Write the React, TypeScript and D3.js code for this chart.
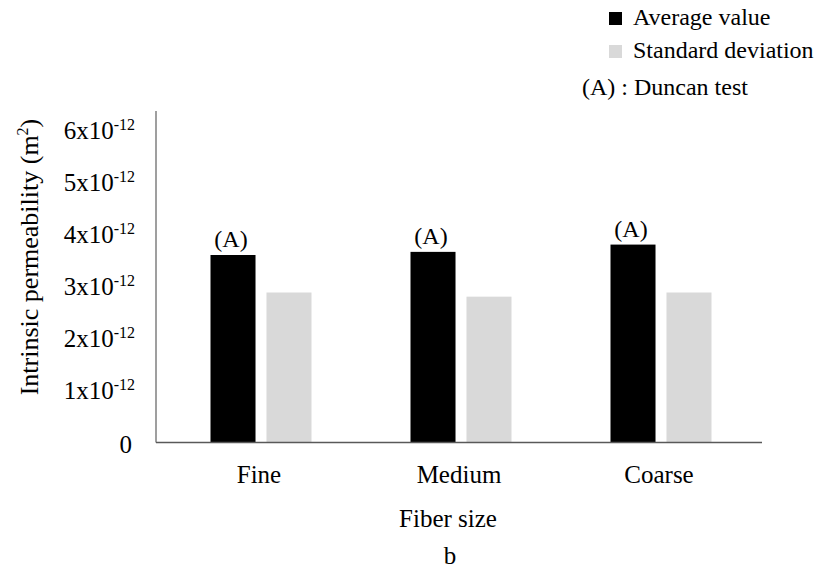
import React from "react";
import * as d3 from "d3";

// Fiber size groups and their permeability measurements (units of 1e-12 m²)
const categories: string[] = ["Fine", "Medium", "Coarse"];
const averageValues: number[] = [3.6, 3.66, 3.8];
const standardDeviations: number[] = [2.88, 2.8, 2.88];
const duncanGroups: string[] = ["A", "A", "A"];
const yTicks: number[] = [0, 1, 2, 3, 4, 5, 6];
const seriesNames: string[] = ["Average value", "Standard deviation"];
const seriesColors: string[] = ["#000000", "#d9d9d9"];

const W = 815;
const H = 569;
const FONT = "'Liberation Serif', 'Times New Roman', serif";

export default function App() {
  const axisLeft = 156;
  const axisRight = 762;
  const baseY = 442.5;
  const topY = 111;

  const y = d3.scaleLinear().domain([0, 6]).range([baseY, 130]);
  const yTop = y.invert(topY);

  const x0 = d3.scaleBand<string>().domain(categories).range([161, 761]);
  const groupW = 101;
  const x1 = d3
    .scaleBand<string>()
    .domain(seriesNames)
    .range([0, groupW])
    .paddingInner(0.196);

  const seriesValues = [averageValues, standardDeviations];

  return (
    <svg
      width={W}
      height={H}
      style={{ position: "absolute", left: 0, top: 0, background: "#fff" }}
      fontFamily={FONT}
    >
      <rect x={0} y={0} width={W} height={H} fill="#fff" />

      {/* bars */}
      {categories.map((c, i) => {
        const gx = (x0(c) as number) + (x0.bandwidth() - groupW) / 2;
        return (
          <g key={c} transform={`translate(${gx},0)`}>
            {seriesNames.map((s, j) => {
              const v = seriesValues[j][i];
              return (
                <rect
                  key={s}
                  x={x1(s) as number}
                  y={y(v)}
                  width={x1.bandwidth()}
                  height={baseY - y(v)}
                  fill={seriesColors[j]}
                />
              );
            })}
            <text
              x={(x1(seriesNames[0]) as number) + x1.bandwidth() / 2 - 2}
              y={y(averageValues[i]) - 8}
              textAnchor="middle"
              fontSize={24}
              fill="#000"
            >
              {`(${duncanGroups[i]})`}
            </text>
          </g>
        );
      })}

      {/* axes */}
      <line
        x1={axisLeft}
        x2={axisLeft}
        y1={y(yTop)}
        y2={baseY}
        stroke="#7f7f7f"
        strokeWidth={1.5}
      />
      <line
        x1={axisLeft}
        x2={axisRight}
        y1={baseY}
        y2={baseY}
        stroke="#595959"
        strokeWidth={1.5}
      />

      {/* y tick labels */}
      {yTicks.map((t) =>
        t === 0 ? (
          <text
            key={t}
            x={132}
            y={y(t) + 10}
            textAnchor="end"
            fontSize={25}
            fill="#000"
          >
            0
          </text>
        ) : (
          <text
            key={t}
            x={135}
            y={y(t) + 9}
            textAnchor="end"
            fontSize={25}
            fill="#000"
          >
            <tspan>{`${t}x10`}</tspan>
            <tspan fontSize={16} dy={-9}>
              -12
            </tspan>
          </text>
        )
      )}

      {/* x tick labels */}
      {categories.map((c) => (
        <text
          key={c}
          x={(x0(c) as number) + x0.bandwidth() / 2 - 2}
          y={483}
          textAnchor="middle"
          fontSize={25}
          fill="#000"
        >
          {c}
        </text>
      ))}

      {/* axis titles */}
      <text x={448} y={527} textAnchor="middle" fontSize={25} fill="#000">
        Fiber size
      </text>
      <text x={450} y={564} textAnchor="middle" fontSize={25} fill="#000">
        b
      </text>
      <text
        transform={`translate(38,257) rotate(-90)`}
        textAnchor="middle"
        fontSize={26}
        fill="#000"
      >
        <tspan>Intrinsic permeability (m</tspan>
        <tspan fontSize={16} dy={-10}>
          2
        </tspan>
        <tspan dy={10}>)</tspan>
      </text>

      {/* legend */}
      {seriesNames.map((s, j) => (
        <g key={s} transform={`translate(609,${12 + j * 33})`}>
          <rect x={0} y={0} width={13} height={13} fill={seriesColors[j]} />
          <text x={24} y={13} fontSize={24} fill="#000">
            {s}
          </text>
        </g>
      ))}
      <text x={582} y={95} fontSize={24} fill="#000">
        (A) : Duncan test
      </text>
    </svg>
  );
}
